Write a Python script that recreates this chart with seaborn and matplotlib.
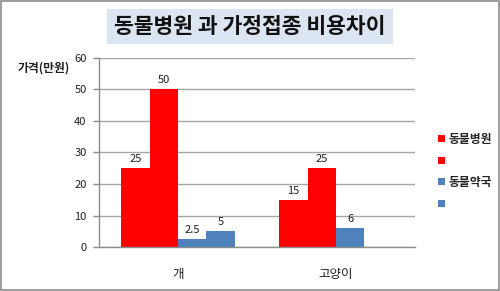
import matplotlib
matplotlib.use("Agg")
import matplotlib.pyplot as plt
import seaborn as sns
import pandas as pd
from matplotlib.patches import Rectangle

categories = ["개", "고양이"]
series = ["동물병원", " ", "동물약국", "  "]
legend_labels = ["동물병원", "", "동물약국", ""]
values_dog = [25, 50, 2.5, 5]
values_cat = [15, 25, 6, None]
colors = ["#FF0000", "#FF0000", "#4F81BD", "#4F81BD"]

rows = []
for cat, vals in zip(categories, [values_dog, values_cat]):
    for s, v in zip(series, vals):
        if v is not None:
            rows.append({"cat": cat, "series": s, "value": v})
df = pd.DataFrame(rows)

sns.set_theme(style="white")
plt.rcParams["font.family"] = ["Noto Sans CJK KR", "DejaVu Sans"]

fig = plt.figure(figsize=(5.0, 2.91), dpi=100)
ax = fig.add_axes([0.198, 0.151, 0.632, 0.650])

sns.barplot(data=df, x="cat", y="value", hue="series", order=categories,
            hue_order=series, palette=colors, width=0.72, gap=0,
            saturation=1, ax=ax, legend=True, linewidth=0)

for cont in ax.containers:
    ax.bar_label(cont, fmt="%g", padding=3, fontsize=8, color="#202020")

ax.set_ylim(0, 60)
ax.set_yticks(range(0, 61, 10))
ax.yaxis.grid(True, color="#a6a6a6", linewidth=1)
ax.set_axisbelow(True)
for sp in ["top", "right"]:
    ax.spines[sp].set_visible(False)
for sp in ["left", "bottom"]:
    ax.spines[sp].set_color("#8c8c8c")
    ax.spines[sp].set_linewidth(1)
ax.tick_params(axis="y", left=True, length=4, width=1, color="#8c8c8c",
               labelsize=8, labelcolor="#202020", pad=5)
ax.tick_params(axis="x", bottom=False, labelsize=9, labelcolor="#202020", pad=9)
ax.set_xlabel("")
ax.set_ylabel("")

# legend
handles, _ = ax.get_legend_handles_labels()
ax.legend(handles, legend_labels, loc="upper left", bbox_to_anchor=(1.04, 0.66),
          frameon=False, handlelength=0.55, handleheight=0.55,
          handletextpad=0.3, labelspacing=0.72, prop={"weight": "bold", "size": 8.5})

fig.text(0.036, 0.755, "가격(만원)", fontsize=8.5, fontweight="bold", color="#202020")

# title box
fig.text(0.5, 0.91, "동물병원 과 가정접종 비용차이", ha="center", va="center",
         fontsize=15.5, fontweight="bold", color="#111111",
         bbox=dict(boxstyle="square,pad=0.32", facecolor="#dce6f2", edgecolor="none"))

# outer border
fig.patches.append(Rectangle((0.002, 0.003), 0.995, 0.993, transform=fig.transFigure,
                             fill=False, edgecolor="#8c8c8c", linewidth=1.2))

fig.savefig("out.png", dpi=100)
